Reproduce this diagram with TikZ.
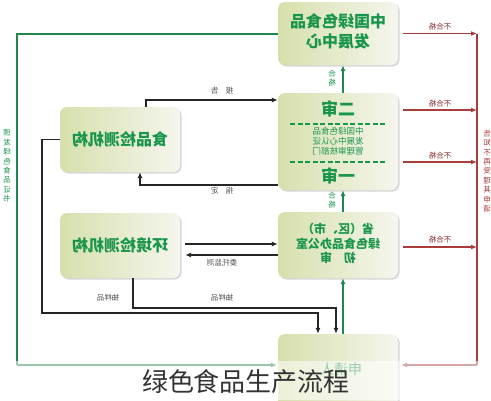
\documentclass[tikz,border=0pt]{standalone}
\usepackage{graphicx}
\usepackage{fontspec}
\newfontfamily\cjk{Noto Sans CJK SC}
\usetikzlibrary{arrows.meta,shadows}
\definecolor{tg}{RGB}{25,150,75}
\definecolor{gline}{RGB}{30,135,75}
\definecolor{rline}{RGB}{170,60,60}
\definecolor{lbl}{RGB}{80,80,80}
\definecolor{boxA}{RGB}{214,224,172}
\definecolor{boxB}{RGB}{246,246,238}
\newcommand\mir[1]{\reflectbox{#1}}
\newcommand\mstack[1]{\reflectbox{\begin{tabular}{@{}c@{}}#1\end{tabular}}}
\tikzset{
  box/.style={rounded corners=7pt, minimum width=120pt, inner sep=0pt,
    left color=boxA, right color=boxB, text=tg,
    drop shadow={shadow xshift=1.5pt, shadow yshift=-1.5pt, fill=black!30}},
  big/.style={font=\cjk\bfseries\fontsize{16}{19}\selectfont},
  lab/.style={font=\cjk\fontsize{7.5}{9}\selectfont, text=lbl, inner sep=1pt},
  rlab/.style={font=\cjk\fontsize{7.5}{9}\selectfont, text=rline!80!black, inner sep=1pt},
  blk/.style={draw=black!85, line width=1.2pt},
  blkarr/.style={blk, -{Latex[length=6pt,width=5pt]}},
  garr/.style={draw=gline, line width=1.5pt, -{Latex[length=6pt,width=5pt]}},
  rarr/.style={draw=rline, line width=1.3pt, -{Latex[length=6pt,width=5pt]}},
}
\begin{document}
\begin{tikzpicture}[x=1pt,y=-1pt]
\useasboundingbox (0,0) rectangle (491,400);
\fill[white] (0,0) rectangle (491,400);

% boxes
\node[box, minimum height=63pt, big] (top) at (338,33.5) {\mstack{中国绿色食品\\发展中心}};
\node[box, minimum height=97pt] (mid) at (338,141.5) {};
\node[box, minimum height=66pt, font=\cjk\bfseries\fontsize{12}{14}\selectfont] (low) at (338,245) {\mstack{省（区、市）\\绿色食品办公室\\初\quad 审}};
\node[box, minimum height=76pt] (app) at (338,372) {};
\node[box, minimum height=65pt, big] (food) at (120,139.5) {\mir{食品检测机构}};
\node[box, minimum height=65pt, big] (env) at (120,245.5) {\mir{环境检测机构}};

% middle box content
\node[text=tg, font=\cjk\bfseries\fontsize{17}{19}\selectfont] (er) at (338,109) {\mir{二审}};
\node[text=tg, font=\cjk\bfseries\fontsize{17}{19}\selectfont] (yi) at (338,176) {\mir{一审}};
\node[text=tg, font=\cjk\fontsize{8.5}{9.2}\selectfont] (midtxt) at (338,142.5) {\mstack{中国绿色食品\\发展中心认证\\管理审核部门}};
\draw[tg, line width=2.2pt, dash pattern=on 5pt off 2.5pt] ([xshift=-48pt]mid.center |- 0,124) coordinate (d1) -- ([xshift=48pt]mid.center |- 0,124) coordinate (d2);
\draw[tg, line width=2.2pt, dash pattern=on 5pt off 2.5pt] ([xshift=-48pt]mid.center |- 0,162) coordinate (d3) -- ([xshift=48pt]mid.center |- 0,162) coordinate (d4);

% applicant text
\node[text=tg, font=\cjk\fontsize{14}{16}\selectfont] (apptxt) at (341,369) {\mir{申请人}};

% report / designate
\draw[blkarr] ([xshift=26pt]food.north) |- ([yshift=41.5pt]mid.west);
\node[lab] (bg) at (222,91) {\mir{报\quad 告}};
\draw[blkarr] ([yshift=-43.5pt]mid.west) -| ([xshift=20pt]food.south);
\node[lab] (zd) at (222,191) {\mir{指\quad 定}};

% environment monitoring
\draw[blkarr] ([xshift=5pt,yshift=1.5pt]env.east) -- ([yshift=1.5pt]env.east -| low.west);
\draw[blkarr] ([yshift=-9.5pt]env.east -| low.west) -- ([xshift=5pt,yshift=-9.5pt]env.east);
\node[lab] (wt) at (222,263) {\mir{委托监测}};

% sampling
\coordinate (c1) at (42,313);
\coordinate (c2) at (336,308);
\draw[blkarr] (food.west) -| (c1) -| ([xshift=-20pt]app.north);
\draw[blkarr] ([xshift=13pt]env.south) |- (c2) -- (c2 |- app.north);
\node[lab] (cy1) at (108,298) {\mir{抽样品}};
\node[lab] (cy2) at (222,298) {\mir{抽样品}};

% qualified (green up arrows)
\draw[garr] ([xshift=5pt]app.north) -- ([xshift=5pt]low.south);
\draw[garr] ([xshift=5pt]low.north) -- ([xshift=5pt]mid.south);
\draw[garr] ([xshift=5pt]mid.north) -- ([xshift=5pt]top.south);
\node[text=tg, font=\cjk\fontsize{7.5}{9}\selectfont, inner sep=0pt] (hg1) at (332,79) {\mstack{合\\格}};
\node[text=tg, font=\cjk\fontsize{7.5}{9}\selectfont, inner sep=0pt] (hg2) at (332,201) {\mstack{合\\格}};

% green certificate line
\coordinate (gtop) at (17,33.5);
\coordinate (gbot) at (17,365);
\draw[gline, line width=2pt] (top.west) -- (gtop) -- (gbot);
\draw[garr] (gbot) -- ([xshift=-1pt]gbot -| app.west);
\node[text=tg, font=\cjk\fontsize{7.5}{9.4}\selectfont, inner sep=0pt] (cert) at (7,167) {\mstack{颁\\发\\绿\\色\\食\\品\\证\\书}};

% red unqualified lines
\coordinate (rtop) at (477,33.5);
\coordinate (rbot) at (477,365);
\draw[rarr] ([xshift=5pt]top.east) -- (top.east -| rtop);
\draw[rarr] ([xshift=5pt,yshift=31.5pt]mid.east) -- ([yshift=31.5pt]mid.east -| rtop);
\draw[rarr] ([xshift=5pt,yshift=-20.5pt]mid.east) -- ([yshift=-20.5pt]mid.east -| rtop);
\draw[rarr] ([xshift=5pt,yshift=-2pt]low.east) -- ([yshift=-2pt]low.east -| rtop);
\draw[rline, line width=1.3pt] (rtop) -- (rbot);
\draw[rarr] (rbot) -- ([xshift=3pt]rbot -| app.east);
\node[rlab] (bh1) at (440,27) {\mir{不合格}};
\node[rlab] (bh2) at (440,104) {\mir{不合格}};
\node[rlab] (bh3) at (440,156) {\mir{不合格}};
\node[rlab] (bh4) at (440,240) {\mir{不合格}};
\node[text=rline, font=\cjk\fontsize{7.5}{9.4}\selectfont, inner sep=0pt] (notice) at (487,172) {\mstack{告\\知\\不\\再\\受\\理\\其\\申\\请}};

% fading band and caption
\fill[white, opacity=0.55] (0,361) rectangle (491,400);
\node[text=black!80, font=\cjk\fontsize{26}{28}\selectfont] (cap) at (246,382) {绿色食品生产流程};
\end{tikzpicture}
\end{document}
